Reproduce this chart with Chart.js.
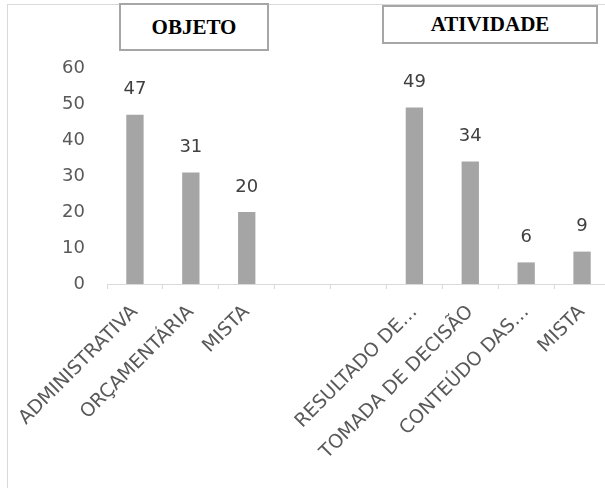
<!DOCTYPE html>
<html>
<head>
<meta charset="utf-8">
<script src="https://cdn.jsdelivr.net/npm/chart.js@4"></script>
<style>
  html, body { margin: 0; padding: 0; background: #fff; overflow: hidden; }
  #frame {
    position: absolute; left: 7px; top: 4px; width: 700px; height: 600px;
    border-left: 1px solid #d9d9d9; border-top: 1px solid #d9d9d9;
  }
  #wrap { position: absolute; left: 0; top: 0; width: 615px; height: 488px; }
  .box {
    position: absolute; background: #fff; border: 2px solid #a6a6a6; box-sizing: border-box;
    font-family: "Liberation Serif", "Times New Roman", serif; font-weight: bold; font-size: 21px;
    color: #000; display: flex; align-items: center; justify-content: center;
  }
</style>
</head>
<body>
<div id="frame"></div>
<div id="wrap"><canvas id="chart" width="615" height="488"></canvas></div>
<div class="box" style="left:119px; top:3px; width:150px; height:48px;">OBJETO</div>
<div class="box" style="left:382px; top:5px; width:216px; height:39px;">ATIVIDADE</div>
<script>
const categories = ["ADMINISTRATIVA", "ORÇAMENTÁRIA", "MISTA", "", "",
  "RESULTADO DE…", "TOMADA DE DECISÃO", "CONTEÚDO DAS…", "MISTA"];
const values = [47, 31, 20, null, null, 49, 34, 6, 9];
const yTicks = { min: 0, max: 60, step: 10 };

const font = "'DejaVu Sans', sans-serif";

// value labels above each bar
const barLabels = {
  id: "barLabels",
  afterDatasetsDraw(chart) {
    const ctx = chart.ctx;
    const meta = chart.getDatasetMeta(0);
    ctx.save();
    ctx.font = "18px " + font;
    ctx.fillStyle = "#404040";
    ctx.textAlign = "center";
    ctx.textBaseline = "middle";
    meta.data.forEach((bar, i) => {
      if (values[i] == null) return;
      ctx.fillText(values[i], bar.x, bar.y - 25);
    });
    ctx.restore();
  }
};

new Chart(document.getElementById("chart").getContext("2d"), {
  type: "bar",
  data: {
    labels: categories,
    datasets: [{
      data: values,
      backgroundColor: "#a5a5a5",
      barPercentage: 0.31,
      categoryPercentage: 1
    }]
  },
  options: {
    responsive: false,
    animation: false,
    layout: { padding: { left: 0, top: 68, right: 5, bottom: 0 } },
    plugins: { legend: { display: false }, tooltip: { enabled: false } },
    scales: {
      x: {
        grid: { offset: true, drawOnChartArea: false, drawTicks: true, tickLength: 5, color: "#d9d9d9" },
        border: { display: true, color: "#d9d9d9", width: 1 },
        ticks: {
          autoSkip: false, minRotation: 45, maxRotation: 45, padding: 12,
          color: "#595959", font: { family: font, size: 19 }
        },
        afterFit: s => { s.height = 488 - 284; }
      },
      y: {
        min: yTicks.min, max: yTicks.max,
        grid: { display: false, drawTicks: false },
        border: { display: false },
        ticks: { stepSize: yTicks.step, padding: 22, color: "#595959", font: { family: font, size: 18 } },
        afterFit: s => { s.width = 107; }
      }
    }
  },
  plugins: [barLabels]
});
</script>
</body>
</html>
